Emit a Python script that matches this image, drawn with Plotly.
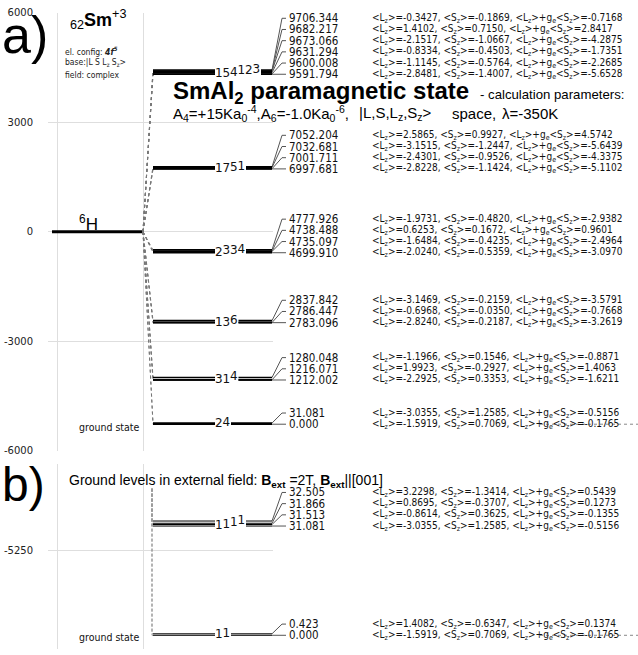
import plotly.graph_objects as go

W, H = 638, 655

# ---------------- data ----------------
E_GROUND = -5274.0          # position of the ground state on the axis of panel a
H6_LEVEL = 0.0              # free-ion 6H term

energy_a = [0.000, 31.081, 1212.002, 1216.071, 1280.048, 2783.096, 2786.447, 2837.842,
            4699.910, 4735.097, 4738.488, 4777.926, 6997.681, 7001.711, 7032.681, 7052.204,
            9591.794, 9600.008, 9631.294, 9673.066, 9682.217, 9706.344]
group_a = [0, 0, 1, 1, 1, 2, 2, 2, 3, 3, 3, 3, 4, 4, 4, 4, 5, 5, 5, 5, 5, 5]
lz_a = [-1.5919, -3.0355, -2.2925, 1.9923, -1.1966, -2.8240, -0.6968, -3.1469,
        -2.0240, -1.6484, 0.6253, -1.9731, -2.8228, -2.4301, -3.1515, 2.5865,
        -2.8481, -1.1145, -0.8334, -2.1517, 1.4102, -0.3427]
sz_a = [0.7069, 1.2585, 0.3353, -0.2927, 0.1546, -0.2187, -0.0350, -0.2159,
        -0.5359, -0.4235, 0.1672, -0.4820, -1.1424, -0.9526, -1.2447, 0.9927,
        -1.4007, -0.5764, -0.4503, -1.0667, 0.7150, -0.1869]
mz_a = [-0.1765, -0.5156, -1.6211, 1.4063, -0.8871, -3.2619, -0.7668, -3.5791,
        -3.0970, -2.4964, 0.9601, -2.9382, -5.1102, -4.3375, -5.6439, 4.5742,
        -5.6528, -2.2685, -1.7351, -4.2875, 2.8417, -0.7168]
digit_a = ["2", "4", "3", "1", "4", "1", "3", "6", "2", "3", "3", "4",
           "1", "7", "5", "1", "1", "5", "4", "1", "2", "3"]

energy_b = [0.000, 0.423, 31.081, 31.513, 31.866, 32.505]
group_b = [0, 0, 1, 1, 1, 1]
lz_b = [-1.5919, 1.4082, -3.0355, -0.8614, 0.8695, 3.2298]
sz_b = [0.7069, -0.6347, 1.2585, 0.3625, -0.3707, -1.3414]
mz_b = [-0.1765, 0.1374, -0.5156, -0.1355, 0.1273, 0.5439]
digit_b = ["1", "1", "1", "1", "1", "1"]

ticks_a = [-6000, -3000, 0, 3000, 6000]
ticktext_a = ["-6000", "-3000", "0", "3000", "6000"]
ticks_b = [-5250]
ticktext_b = ["-5250"]

# ---------------- layout constants ----------------
RANGE_A = [-6000, 6000]
RANGE_B = [-5277.9, -5225.4]
DOM_A = [1 - 453 / H, 1 - 7 / H]
DOM_B = [0, 1 - 467 / H]
UPP_A = (RANGE_A[1] - RANGE_A[0]) / ((DOM_A[1] - DOM_A[0]) * H)   # data units per pixel
UPP_B = (RANGE_B[1] - RANGE_B[0]) / ((DOM_B[1] - DOM_B[0]) * H)

LINE_X0, DIG_X0, DIG_W, LINE_X1 = 153, 215, 7.5, 272
ELBOW_X, LABEL_X, TEXT_X = 282, 287, 370
ROW_PX = 11.4
GRID = "#dedede"
TXT_FONT = "DejaVu Sans Condensed, DejaVu Sans"
ARIAL = "Liberation Sans, Arial"

fig = go.Figure()
annotations = []


def fmt_text(l, s, m):
    return (f"&lt;L<sub>z</sub>&gt;={l:.4f}, &lt;S<sub>z</sub>&gt;={s:.4f}, "
            f"&lt;L<sub>z</sub>&gt;+g<sub>e</sub>&lt;S<sub>z</sub>&gt;={m:.4f}")


def panel(energy, group, lz, sz, mz, digits, yname, upp, lw):
    lx, ly, cx, cy, dx, dy, dt = [], [], [], [], [], [], []
    for g in sorted(set(group)):
        idx = sorted([i for i in range(len(energy)) if group[i] == g], key=lambda i: energy[i])
        n = len(idx)
        y_low = E_GROUND + energy[idx[0]]
        for k, i in enumerate(idx):
            y = E_GROUND + energy[i]
            lx += [LINE_X0, DIG_X0, None, DIG_X0 + n * DIG_W + 1, LINE_X1, None]
            ly += [y, y, None, y, y, None]
            dx.append(DIG_X0 + DIG_W * (k + 0.5))
            dy.append(y)
            dt.append(digits[i])
            ry = y_low + k * ROW_PX * upp
            cx += [LINE_X1, ELBOW_X, LABEL_X - 1, None]
            cy += [y, ry, ry, None]
            annotations.append(dict(x=LABEL_X / W, xref="paper", y=ry, yref=yname,
                                    text=f"{energy[i]:.3f}", showarrow=False,
                                    xanchor="left", yanchor="middle",
                                    font=dict(family=TXT_FONT, size=11.5, color="#111")))
            annotations.append(dict(x=TEXT_X / W, xref="paper", y=ry, yref=yname,
                                    text=fmt_text(lz[i], sz[i], mz[i]), showarrow=False,
                                    xanchor="left", yanchor="middle",
                                    font=dict(family=TXT_FONT, size=10, color="#111")))
    fig.add_trace(go.Scatter(x=cx, y=cy, mode="lines", xaxis="x2", yaxis=yname,
                             line=dict(color="#555", width=1), hoverinfo="skip"))
    fig.add_trace(go.Scatter(x=lx, y=ly, mode="lines", xaxis="x2", yaxis=yname,
                             line=dict(color="black", width=lw), hoverinfo="skip"))
    fig.add_trace(go.Scatter(x=dx, y=dy, mode="text", text=dt, xaxis="x2", yaxis=yname,
                             textposition="middle center", cliponaxis=False,
                             textfont=dict(family="DejaVu Sans", size=12, color="#111"),
                             hoverinfo="skip"))
    # trailing dotted line on the ground row
    gy = E_GROUND + min(energy)
    fig.add_trace(go.Scatter(x=[540, W], y=[gy, gy], mode="lines", xaxis="x2", yaxis=yname,
                             line=dict(color="#888", width=1, dash="dot"), hoverinfo="skip"))


# grid subplots (only carry the axis grids)
fig.add_trace(go.Scatter(x=[None], y=[None], xaxis="x", yaxis="y", hoverinfo="skip"))
fig.add_trace(go.Scatter(x=[None], y=[None], xaxis="x", yaxis="y4", hoverinfo="skip"))

# panel a: 6H term and dotted links to the crystal-field levels
fig.add_trace(go.Scatter(x=[52, 143], y=[H6_LEVEL, H6_LEVEL], mode="lines", xaxis="x2", yaxis="y2",
                         line=dict(color="black", width=3), hoverinfo="skip"))
px, py = [], []
for e in energy_a:
    px += [143, LINE_X0, None]
    py += [H6_LEVEL, E_GROUND + e, None]
fig.add_trace(go.Scatter(x=px, y=py, mode="lines", xaxis="x2", yaxis="y2",
                         line=dict(color="#777", width=1, dash="dot"), hoverinfo="skip"))
panel(energy_a, group_a, lz_a, sz_a, mz_a, digit_a, "y2", UPP_A, 1.6)

# panel b: dashed links from above
bx, by = [], []
y_top = E_GROUND + max(energy_b) + 33 * UPP_B
for e in energy_b:
    bx += [152, 152, LINE_X0, None]
    by += [y_top, E_GROUND + e, E_GROUND + e, None]
fig.add_trace(go.Scatter(x=bx, y=by, mode="lines", xaxis="x2", yaxis="y3",
                         line=dict(color="#999", width=1, dash="3px,2px"), hoverinfo="skip"))
panel(energy_b, group_b, lz_b, sz_b, mz_b, digit_b, "y3", UPP_B, 1.0)


def pa(text, x, y, size, family=ARIAL, xanchor="left", yanchor="middle", color="black"):
    annotations.append(dict(x=x / W, y=1 - y / H, xref="paper", yref="paper", text=text,
                            showarrow=False, xanchor=xanchor, yanchor=yanchor,
                            font=dict(family=family, size=size, color=color)))


pa("a)", 0, 30, 52)
pa("b)", 0, 487, 48)
pa("<sub>62</sub><b>Sm</b><sup>+3</sup>", 68, 14, 18)
pa("el. config: <b><i>4f<sup>5</sup></i></b>", 63, 46, 8.5, family=TXT_FONT, color="#222")
pa("base:|L S L<sub>z</sub> S<sub>z</sub>&gt;", 63, 58, 8.5, family=TXT_FONT, color="#222")
pa("field: complex", 63, 70, 8.5, family=TXT_FONT, color="#222")
pa("<sup>6</sup>H", 77, 221, 17)
pa("ground state", 77, 429, 10.5, family=TXT_FONT, color="#111")
pa("ground state", 77, 643, 10.5, family=TXT_FONT, color="#111")
pa("<b>SmAl<sub>2</sub> paramagnetic state</b>", 171, 88, 24)
pa("- calculation parameters:", 478, 90, 13.2)
pa("A<sub>4</sub>=+15Ka<sub>0</sub><sup>-4</sup>,A<sub>6</sub>=-1.0Ka<sub>0</sub><sup>-6</sup>,",
   171, 109, 15)
pa("|L,S,L<sub>z</sub>,S<sub>z</sub>&gt;", 357, 109, 15)
pa("space,", 450, 109, 15)
pa("\u03bb=-350K", 500, 109, 15)
pa("Ground levels in external field: <b>B<sub>ext</sub></b> =2T, <b>B<sub>ext</sub></b>||[001]",
   67, 484, 14)

tickfont = dict(family="DejaVu Sans", size=10, color="#222")
fig.update_layout(
    width=W, height=H, margin=dict(l=0, r=0, t=0, b=0),
    paper_bgcolor="white", plot_bgcolor="rgba(0,0,0,0)", showlegend=False,
    font=dict(family="DejaVu Sans"),
    xaxis=dict(domain=[48 / W, 273 / W], range=[48, 273], tickvals=[57, 143], showgrid=True,
               gridcolor=GRID, showticklabels=False, zeroline=False, showline=False, ticks="",
               anchor="y", fixedrange=True),
    yaxis=dict(domain=DOM_A, range=RANGE_A, tickvals=ticks_a, ticktext=ticktext_a,
               showgrid=True, gridcolor=GRID, zeroline=False, showline=False, ticks="",
               tickfont=tickfont, anchor="x", ticklabelstandoff=14, fixedrange=True),
    yaxis4=dict(domain=DOM_B, range=RANGE_B, tickvals=ticks_b, ticktext=ticktext_b,
                showgrid=True, gridcolor=GRID, zeroline=False, showline=False, ticks="",
                tickfont=tickfont, anchor="x", ticklabelstandoff=14, fixedrange=True),
    xaxis2=dict(domain=[0, 1], range=[0, W], visible=False, anchor="y2", fixedrange=True),
    yaxis2=dict(domain=DOM_A, range=RANGE_A, visible=False, anchor="x2", fixedrange=True),
    yaxis3=dict(domain=DOM_B, range=RANGE_B, visible=False, anchor="x2", fixedrange=True),
    annotations=annotations,
)

fig.write_html("out.html", config={"displayModeBar": False},
               post_script="document.body.style.margin='0px';")
